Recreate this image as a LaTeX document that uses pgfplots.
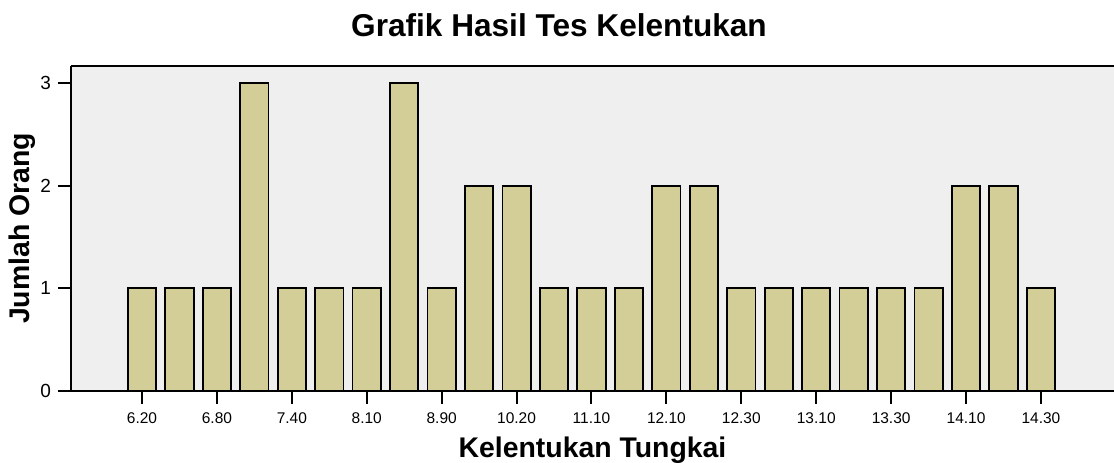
\documentclass[border=0pt]{standalone}
\usepackage{pgfplots}
\pgfplotsset{compat=1.18}
\usepackage{fontspec}
\setmainfont{Liberation Sans}
\definecolor{barcol}{RGB}{211,206,152}
\definecolor{bgcol}{RGB}{239,239,239}
\begin{document}
\begin{tikzpicture}
\begin{axis}[
  width=521.5pt, height=162.5pt, scale only axis,
  xmin=-1.896, xmax=25.95, ymin=0, ymax=3.166,
  axis background/.style={fill=bgcol},
  axis x line=box, axis y line=left,
  axis line style={line width=1.1pt, -},
  y axis line style={-},
  every non boxed y axis/.append style={y axis line style={-}},
  xtick={0,2,...,24},
  xticklabels={6.20,6.80,7.40,8.10,8.90,10.20,11.10,12.10,12.30,13.10,13.30,14.10,14.30},
  ytick={0,1,2,3},
  xtick pos=bottom, ytick pos=left,
  tick align=outside,
  major tick length=6.5pt,
  tick style={line width=1pt, black},
  /pgf/number format/assume math mode=true,
  xticklabel style={font=\fontsize{7.75}{8}\selectfont, yshift=-1pt},
  yticklabel style={font=\fontsize{9.5}{10}\selectfont},
  title={Grafik Hasil Tes Kelentukan},
  every axis title/.style={at={([xshift=244pt,yshift=14.5pt]axis description cs:0,1)}, anchor=base, font=\bfseries\fontsize{15.8}{16}\selectfont},
  xlabel={Kelentukan Tungkai},
  xlabel style={at={([yshift=-33.5pt]axis description cs:0.5,0)}, anchor=base, font=\bfseries\fontsize{14.2}{15}\selectfont},
  ylabel={Jumlah Orang},
  ylabel style={at={([xshift=-20.5pt]axis description cs:0,0.5)}, anchor=base, font=\bfseries\fontsize{14.2}{15}\selectfont},
  clip=false,
]
\addplot[ybar, bar width=0.756, fill=barcol, draw=black, line width=0.9pt] coordinates {
(0,1) (1,1) (2,1) (3,3) (4,1) (5,1) (6,1) (7,3) (8,1) (9,2) (10,2) (11,1) (12,1)
(13,1) (14,2) (15,2) (16,1) (17,1) (18,1) (19,1) (20,1) (21,1) (22,2) (23,2) (24,1)
};
\coordinate (ll) at (rel axis cs:0,0);
\coordinate (ur) at (rel axis cs:1,1);
\end{axis}
\pgfresetboundingbox
\path[use as bounding box] ([shift={(-35.5pt,-36pt)}]ll) rectangle ([shift={(0pt,33pt)}]ur);
\end{tikzpicture}
\end{document}
